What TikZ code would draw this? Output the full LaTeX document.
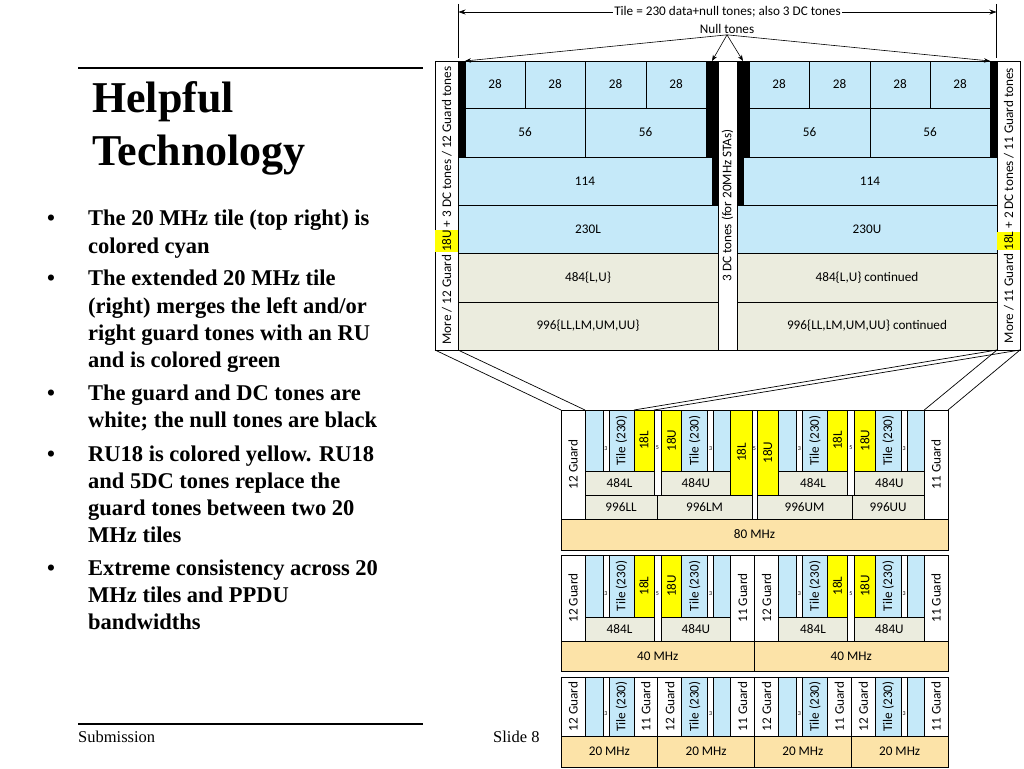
\documentclass[tikz,border=0pt]{standalone}
\usepackage{fontspec}
\setmainfont{Liberation Serif}
\newfontfamily\diafont{Carlito}
\usepackage{graphicx}
\usetikzlibrary{arrows.meta, positioning}
\definecolor{TileCyan}{RGB}{197,233,249}
\definecolor{ExtGreen}{RGB}{235,236,222}
\definecolor{BandOrange}{RGB}{252,227,168}
\definecolor{RUYellow}{RGB}{255,255,0}
\tikzset{
    cellbox/.style={
        draw, line width=0.7pt, inner sep=0pt, outer sep=0pt,
        font=\diafont\fontsize{13.2}{15}\selectfont
    },
    cyancell/.style={cellbox, fill=TileCyan},
    greencell/.style={cellbox, fill=ExtGreen},
    yellowcell/.style={cellbox, fill=RUYellow},
    guardcell/.style={cellbox, fill=white},
    nullcell/.style={cellbox, fill=black},
    bandcell/.style={cellbox, fill=BandOrange},
    linkline/.style={line width=0.7pt},
    ptr/.style={-{Stealth[length=6pt,width=4.5pt]}, line width=0.6pt},
    dimline/.style={{Stealth[length=7pt,width=5pt]}-{Stealth[length=7pt,width=5pt]}, line width=0.6pt},
    labeltext/.style={font=\diafont\fontsize{13.2}{15}\selectfont, inner sep=1pt},
    bullettext/.style={anchor=base west, inner sep=0pt, font=\bfseries\fontsize{22.5}{27}\selectfont}
}
% one box of the tone plan: style, name, x1, y1, x2, y2, label
\newcommand\cell[7]{%
    \node[#1, minimum width={((#5)-(#3))*1pt}, minimum height={((#6)-(#4))*1pt}]
        (#2) at ({((#3)+(#5))/2},{((#4)+(#6))/2}) {#7};}
\newcommand\vlbl[1]{\rotatebox{90}{#1}}
\newcommand\dclbl[2]{\raisebox{#1pt}[0pt][0pt]{\fontsize{6}{6}\selectfont #2}}
\newcommand\hlyel[1]{{\setlength{\fboxsep}{0pt}\colorbox{RUYellow}{\rule[-7pt]{0pt}{23pt}#1}}}
% lower / upper half of a 20 MHz tile: prefix, x0, top, bottom, label shift
\newcommand\lotile[5]{%
    \cell{cyancell}{#1a}{#2+24}{#3}{#2+42}{#4}{}
    \cell{guardcell}{#1b}{#2+42}{#3}{#2+48}{#4}{\dclbl{#5}{3}}
    \cell{cyancell}{#1c}{#2+48}{#3}{#2+73}{#4}{\vlbl{Tile (230)}}}
\newcommand\uptile[5]{%
    \cell{cyancell}{#1a}{#2+24}{#3}{#2+50}{#4}{\vlbl{Tile (230)}}
    \cell{guardcell}{#1b}{#2+50}{#3}{#2+56}{#4}{\dclbl{#5}{3}}
    \cell{cyancell}{#1c}{#2+56}{#3}{#2+73}{#4}{}}
% one 40 MHz block: prefix, x0
\newcommand\fortyhalf[2]{%
    \cell{guardcell}{#1g}{#2}{555}{#2+24}{641}{\vlbl{12 Guard}}
    \lotile{#1l}{#2}{555}{617}{-9}
    \cell{yellowcell}{#1yl}{#2+73}{555}{#2+93}{617}{\vlbl{18L}}
    \cell{guardcell}{#1d}{#2+93}{555}{#2+100}{641}{\dclbl{3}{5}}
    \cell{yellowcell}{#1yu}{#2+100}{555}{#2+120.75}{617}{\vlbl{18U}}
    \uptile{#1u}{#2+96.75}{555}{617}{-9}
    \cell{guardcell}{#1h}{#2+169.75}{555}{#2+193.5}{641}{\vlbl{11 Guard}}
    \cell{greencell}{#1p}{#2+24}{617}{#2+93}{641}{484L}
    \cell{greencell}{#1q}{#2+100}{617}{#2+169.75}{641}{484U}
    \cell{bandcell}{#1b}{#2}{641}{#2+193.5}{671}{40 MHz}}

\begin{document}
\begin{tikzpicture}[x=1pt, y=-1pt]
    \fill[white] (0,0) rectangle (1024,768);
    \useasboundingbox (0,0) rectangle (1024,768);

    % --- slide text ---
    \draw[line width=1.5pt] (78,68) -- (423,68);
    \node[anchor=base west, inner sep=0pt, font=\bfseries\fontsize{44}{53}\selectfont] (title1) at (92,112) {Helpful};
    \node[anchor=base west, inner sep=0pt, font=\bfseries\fontsize{44}{53}\selectfont] (title2) at (92,165) {Technology};

    \node[bullettext] (d1) at (47,225) {\textbullet};
    \node[bullettext] (b1a) at (88,225) {The 20 MHz tile (top right) is};
    \node[bullettext] (b1b) at (88,253) {colored cyan};
    \node[bullettext] (d2) at (47,285) {\textbullet};
    \node[bullettext] (b2a) at (88,285) {The extended 20 MHz tile};
    \node[bullettext] (b2b) at (88,313) {(right) merges the left and/or};
    \node[bullettext] (b2c) at (88,340) {right guard tones with an RU};
    \node[bullettext] (b2d) at (88,367) {and is colored green};
    \node[bullettext] (d3) at (47,400) {\textbullet};
    \node[bullettext] (b3a) at (88,400) {The guard and DC tones are};
    \node[bullettext] (b3b) at (88,427) {white; the null tones are black};
    \node[bullettext] (d4) at (47,461) {\textbullet};
    \node[bullettext] (b4a) at (88,461) {RU18 is colored yellow. RU18};
    \node[bullettext] (b4b) at (88,488) {and 5DC tones replace the};
    \node[bullettext] (b4c) at (88,515) {guard tones between two 20};
    \node[bullettext] (b4d) at (88,542) {MHz tiles};
    \node[bullettext] (d5) at (47,575) {\textbullet};
    \node[bullettext] (b5a) at (88,575) {Extreme consistency across 20};
    \node[bullettext] (b5b) at (88,602) {MHz tiles and PPDU};
    \node[bullettext] (b5c) at (88,629) {bandwidths};

    \draw[line width=1.2pt] (78,724) -- (423,724);
    \node[anchor=base west, inner sep=0pt, font=\fontsize{16.5}{18}\selectfont] (subm) at (78,742) {Submission};
    \node[anchor=base west, inner sep=0pt, font=\fontsize{16.5}{18}\selectfont] (slide) at (493,742) {Slide 8};

    % --- extended 20 MHz tile ---
    \cell{guardcell}{lguard}{435}{61}{458}{350}{\vlbl{More / 12 Guard \hlyel{18U} + 3 DC tones / 12 Guard tones}}
    \cell{nullcell}{nullL}{458}{61}{465}{157}{}
    \cell{cyancell}{q1}{465}{61}{525}{108}{28}
    \cell{cyancell}{q2}{525}{61}{585}{108}{28}
    \cell{cyancell}{q3}{585}{61}{646}{108}{28}
    \cell{cyancell}{q4}{646}{61}{706}{108}{28}
    \cell{nullcell}{nullMa}{706}{61}{718}{157}{}
    \cell{nullcell}{nullMb}{712}{157}{718}{205}{}
    \cell{cyancell}{h1}{465}{108}{585}{157}{56}
    \cell{cyancell}{h2}{585}{108}{706}{157}{56}
    \cell{cyancell}{s1}{458}{157}{712}{205}{114}
    \cell{cyancell}{c1}{458}{205}{718}{253}{230L}
    \cell{greencell}{f1}{458}{253}{718}{302}{484\{L,U\}}
    \cell{greencell}{n1}{458}{302}{718}{350}{996\{LL,LM,UM,UU\}}
    \cell{guardcell}{dc}{718}{61}{737}{350}{\vlbl{3 DC tones (for 20MHz STAs)}}
    \cell{nullcell}{nullNa}{737}{61}{749}{157}{}
    \cell{nullcell}{nullNb}{737}{157}{743}{205}{}
    \cell{cyancell}{q5}{749}{61}{809}{108}{28}
    \cell{cyancell}{q6}{809}{61}{870}{108}{28}
    \cell{cyancell}{q7}{870}{61}{930}{108}{28}
    \cell{cyancell}{q8}{930}{61}{990}{108}{28}
    \cell{nullcell}{nullR}{990}{61}{997}{157}{}
    \cell{cyancell}{h3}{749}{108}{870}{157}{56}
    \cell{cyancell}{h4}{870}{108}{990}{157}{56}
    \cell{cyancell}{s2}{743}{157}{997}{205}{114}
    \cell{cyancell}{c2}{737}{205}{997}{253}{230U}
    \cell{greencell}{f2}{737}{253}{997}{302}{484\{L,U\} continued}
    \cell{greencell}{n2}{737}{302}{997}{350}{996\{LL,LM,UM,UU\} continued}
    \cell{guardcell}{rguard}{997}{61}{1020}{350}{\vlbl{More / 11 Guard \hlyel{18L} + 2 DC tones / 11 Guard tones}}

    % --- annotations above ---
    \coordinate (dimLt) at (458.5,4);
    \coordinate (dimLb) at (458.5,58);
    \coordinate (dimRt) at (996.5,4);
    \coordinate (dimRb) at (996.5,58);
    \coordinate (dimL) at (458.5,12);
    \coordinate (dimR) at (996.5,12);
    \draw[line width=0.6pt] (dimLt) -- (dimLb);
    \draw[line width=0.6pt] (dimRt) -- (dimRb);
    \draw[dimline] (dimL) -- node[labeltext, fill=white] (tilelbl) {Tile = 230 data+null tones; also 3 DC tones} (dimR);
    \node[labeltext] (nulllbl) at (727,29) {Null tones};
    \draw[ptr] (nulllbl.south) -- (nullL.north east);
    \draw[ptr] (nulllbl.south) -- (nullMa.north);
    \draw[ptr] (nulllbl.south) -- (nullNa.north);
    \draw[ptr] (nulllbl.south) -- (nullR.north west);

    % --- 80 MHz ---
    \cell{guardcell}{g80}{561}{410}{585}{519}{\vlbl{12 Guard}}
    \lotile{e80a}{561}{410}{471}{-9.5}
    \cell{yellowcell}{y80a}{634}{410}{654}{471}{\vlbl{18L}}
    \cell{guardcell}{d80a}{654}{410}{661}{495}{\dclbl{3}{5}}
    \cell{yellowcell}{y80b}{661}{410}{681.75}{471}{\vlbl{18U}}
    \uptile{e80b}{657.75}{410}{471}{-9.5}
    \cell{yellowcell}{y80c}{730.75}{410}{752}{495}{\vlbl{18L}}
    \cell{guardcell}{d80b}{752}{410}{757}{519}{\dclbl{14}{5}}
    \cell{yellowcell}{y80d}{757}{410}{778.5}{495}{\vlbl{18U}}
    \lotile{e80c}{754.5}{410}{471}{-9.5}
    \cell{yellowcell}{y80e}{827.5}{410}{847.5}{471}{\vlbl{18L}}
    \cell{guardcell}{d80c}{847.5}{410}{854.5}{495}{\dclbl{3}{5}}
    \cell{yellowcell}{y80f}{854.5}{410}{875.25}{471}{\vlbl{18U}}
    \uptile{e80d}{851.25}{410}{471}{-9.5}
    \cell{guardcell}{h80}{924.25}{410}{948}{519}{\vlbl{11 Guard}}
    \cell{greencell}{p80a}{585}{471}{654}{495}{484L}
    \cell{greencell}{p80b}{661}{471}{730.75}{495}{484U}
    \cell{greencell}{p80c}{778.5}{471}{847.5}{495}{484L}
    \cell{greencell}{p80d}{854.5}{471}{924.25}{495}{484U}
    \cell{greencell}{w80a}{585}{495}{657}{519}{996LL}
    \cell{greencell}{w80b}{657}{495}{752}{519}{996LM}
    \cell{greencell}{w80c}{757}{495}{852}{519}{996UM}
    \cell{greencell}{w80d}{852}{495}{924.25}{519}{996UU}
    \cell{bandcell}{band80}{561}{519}{948}{550}{80 MHz}

    % --- 40 MHz ---
    \fortyhalf{fa}{561}
    \fortyhalf{fb}{754.5}

    % --- 20 MHz ---
    \cell{guardcell}{g20a}{561}{677}{585}{736}{\vlbl{12 Guard}}
    \lotile{t20a}{561}{677}{736}{-8.5}
    \cell{guardcell}{k20a}{634}{677}{657.75}{736}{\vlbl{11 Guard}}
    \cell{guardcell}{g20b}{657.75}{677}{681.75}{736}{\vlbl{12 Guard}}
    \uptile{t20b}{657.75}{677}{736}{-8.5}
    \cell{guardcell}{k20b}{730.75}{677}{754.5}{736}{\vlbl{11 Guard}}
    \cell{guardcell}{g20c}{754.5}{677}{778.5}{736}{\vlbl{12 Guard}}
    \lotile{t20c}{754.5}{677}{736}{-8.5}
    \cell{guardcell}{k20c}{827.5}{677}{851.25}{736}{\vlbl{11 Guard}}
    \cell{guardcell}{g20d}{851.25}{677}{875.25}{736}{\vlbl{12 Guard}}
    \uptile{t20d}{851.25}{677}{736}{-8.5}
    \cell{guardcell}{k20d}{924.25}{677}{948}{736}{\vlbl{11 Guard}}
    \cell{bandcell}{band20a}{561}{736}{657.75}{767}{20 MHz}
    \cell{bandcell}{band20b}{657.75}{736}{754.5}{767}{20 MHz}
    \cell{bandcell}{band20c}{754.5}{736}{851.25}{767}{20 MHz}
    \cell{bandcell}{band20d}{851.25}{736}{948}{767}{20 MHz}

    % --- links from the tile to 80 MHz ---
    \draw[linkline] (lguard.south west) -- (g80.north west);
    \draw[linkline] (lguard.south east) -- (g80.north east);
    \draw[linkline] (rguard.south west) -- (h80.north west);
    \draw[linkline] (rguard.south east) -- (h80.north east);
    \draw[linkline] (rguard.south west) -- (y80a.north west);
    \draw[linkline] (rguard.south east) -- (y80a.north east);
\end{tikzpicture}
\end{document}
